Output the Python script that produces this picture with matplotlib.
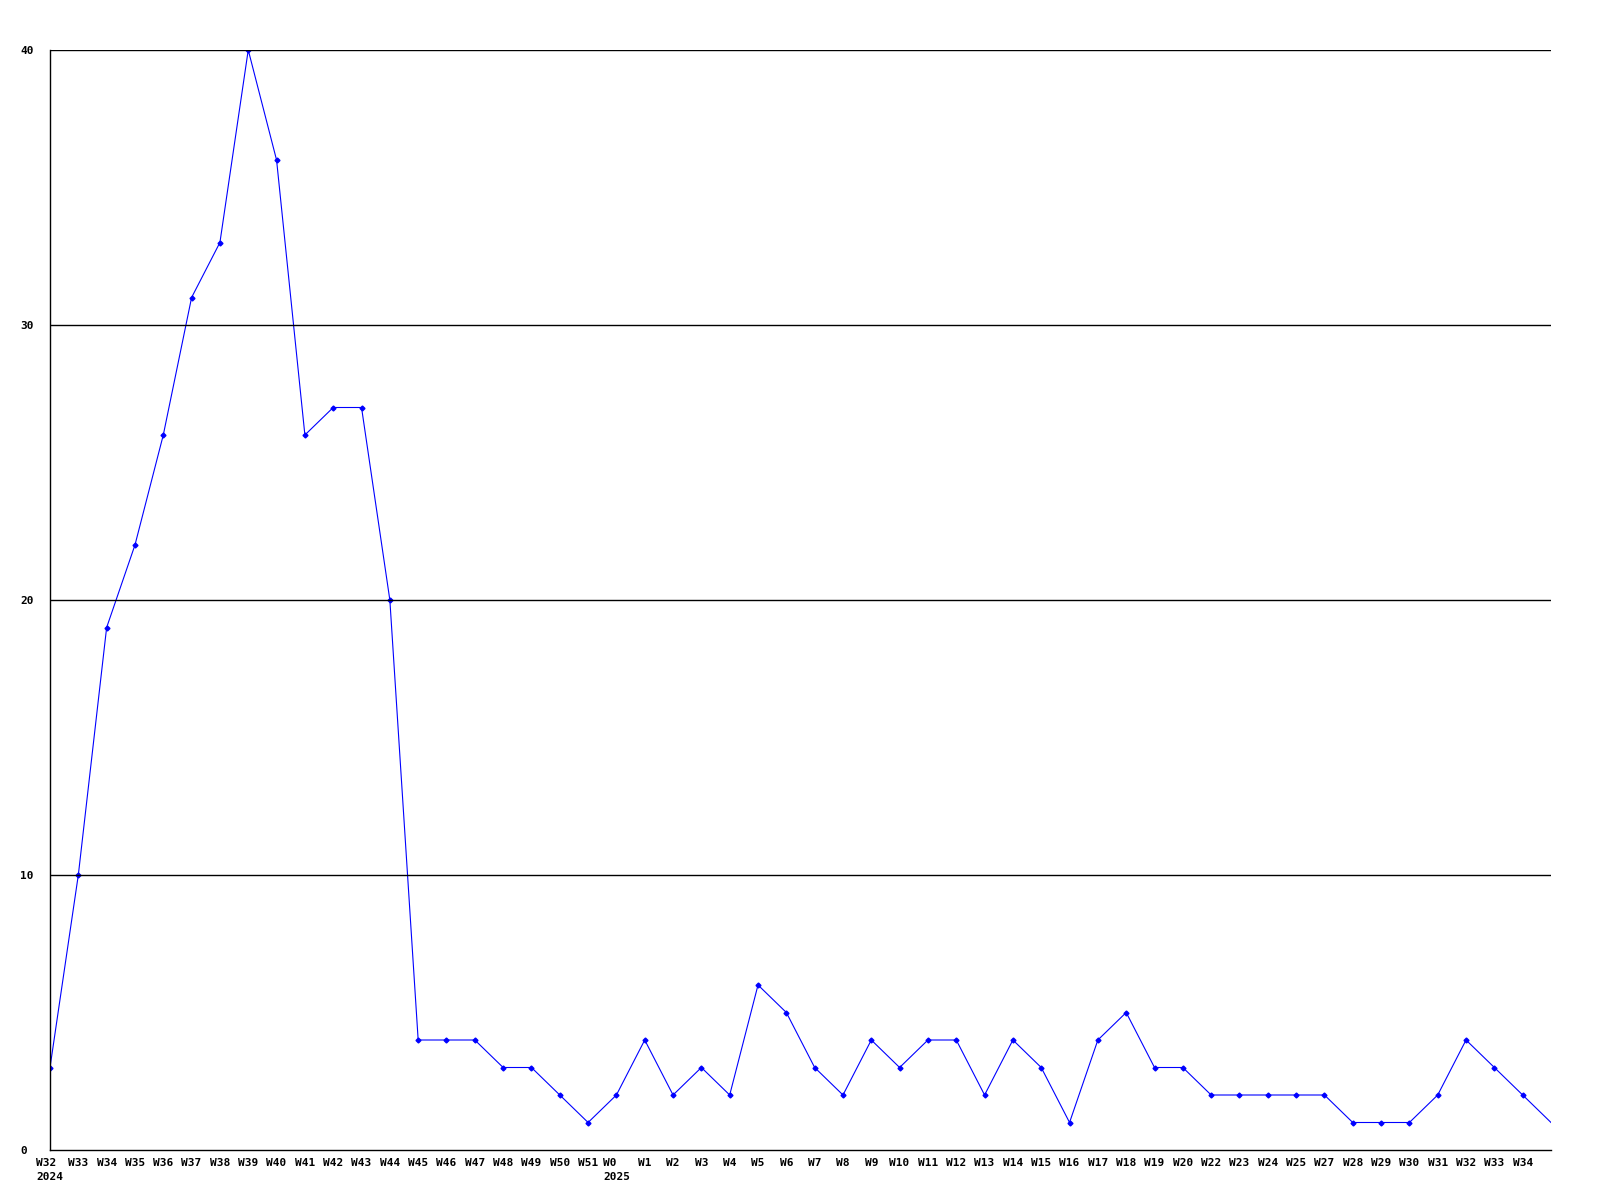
import matplotlib
matplotlib.use("Agg")
import matplotlib.pyplot as plt

# weekly counts, W32 2024 .. W34 2025 (+ one unlabelled point at the end)
weeks = ["W32\n2024", "W33", "W34", "W35", "W36", "W37", "W38", "W39", "W40", "W41",
         "W42", "W43", "W44", "W45", "W46", "W47", "W48", "W49", "W50", "W51",
         "W0\n2025", "W1", "W2", "W3", "W4", "W5", "W6", "W7", "W8", "W9",
         "W10", "W11", "W12", "W13", "W14", "W15", "W16", "W17", "W18", "W19",
         "W20", "W22", "W23", "W24", "W25", "W27", "W28", "W29", "W30", "W31",
         "W32", "W33", "W34", ""]
counts = [3, 10, 19, 22, 26, 31, 33, 40, 36, 26,
          27, 27, 20, 4, 4, 4, 3, 3, 2, 1,
          2, 4, 2, 3, 2, 6, 5, 3, 2, 4,
          3, 4, 4, 2, 4, 3, 1, 4, 5, 3,
          3, 2, 2, 2, 2, 2, 1, 1, 1, 2,
          4, 3, 2, 1]
yticks = [0, 10, 20, 30, 40]

x = list(range(len(counts)))

fig = plt.figure(figsize=(16, 12), dpi=100)
ax = fig.add_axes([50 / 1600, 50 / 1200, 1501 / 1600, 1100 / 1200])

ax.plot(x[:-1], counts[:-1], color="#0000ff", lw=0.8, marker="D", ms=2.5,
        mec="#0000ff", mfc="#0000ff")
ax.plot(x[-2:], counts[-2:], color="#0000ff", lw=0.8)

ax.set_xlim(0, len(counts) - 1)
ax.set_ylim(0, 40)

for y in yticks[1:]:
    ax.axhline(y, color="black", lw=1)

ax.spines["top"].set_visible(False)
ax.spines["right"].set_visible(False)
ax.spines["left"].set_linewidth(1)
ax.spines["bottom"].set_linewidth(1)

font = dict(family="DejaVu Sans Mono", weight="bold", size=8)
ax.set_xticks(x)
ax.set_xticklabels(weeks, fontdict=font, ha="center", multialignment="left",
                   linespacing=1.5)
ax.set_yticks(yticks)
ax.set_yticklabels([str(v) for v in yticks], fontdict=font, ha="left")
ax.tick_params(axis="x", length=0, pad=6)
ax.tick_params(axis="y", length=0, pad=21.6)

fig.savefig("out.png", dpi=100, facecolor="white")
